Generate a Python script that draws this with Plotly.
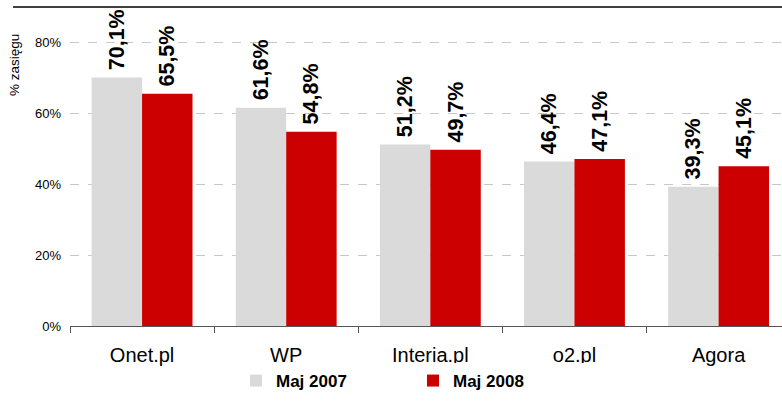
import plotly.graph_objects as go

categories = ["Onet.pl", "WP", "Interia.pl", "o2.pl", "Agora"]
maj_2007 = [70.1, 61.6, 51.2, 46.4, 39.3]
maj_2008 = [65.5, 54.8, 49.7, 47.1, 45.1]
y_ticks = [0, 20, 40, 60, 80]
y_tick_labels = ["0%", "20%", "40%", "60%", "80%"]

def fmt(v):
    return "\u2009" + f"{v:.1f}".replace(".", ",") + "%"

fig = go.Figure()
lab_font = dict(family="Liberation Sans, Arial", size=21.5, color="black")
fig.add_trace(go.Bar(
    name="<b>Maj 2007</b>", x=categories, y=maj_2007,
    marker=dict(color="#DADADA", line=dict(width=0)),
    text=[f"<b>{fmt(v)}</b>" for v in maj_2007],
    textposition="outside", textangle=-90, textfont=lab_font, cliponaxis=False,
    constraintext="none",
))
fig.add_trace(go.Bar(
    name="<b>Maj 2008</b>", x=categories, y=maj_2008,
    marker=dict(color="#CC0000", line=dict(width=0)),
    text=[f"<b>{fmt(v)}</b>" for v in maj_2008],
    textposition="outside", textangle=-90, textfont=lab_font, cliponaxis=False,
    constraintext="none",
))

L, T, B, W, H = 70, 7, 85, 782, 411
pw = W - L
ph = H - T - B
fig.update_layout(
    width=W, height=H,
    margin=dict(l=L, r=0, t=T, b=B, autoexpand=False),
    paper_bgcolor="white", plot_bgcolor="white",
    barmode="group", bargap=0.3, bargroupgap=0,
    font=dict(family="Liberation Sans, Arial", color="black"),
    showlegend=True,
    legend=dict(orientation="h", x=(236 - L) / pw, xanchor="left",
                y=(326 - 363) / ph, yanchor="top",
                font=dict(size=17, family="Liberation Sans, Arial"),
                entrywidth=132, itemwidth=30, traceorder="normal"),
    uniformtext=dict(mode=False),
)
fig.update_xaxes(
    range=[-0.5, 4.44], showline=True, linecolor="#555555", linewidth=1,
    ticks="outside", ticklen=6, tickcolor="#555555", tickson="boundaries",
    tickfont=dict(size=20), showgrid=False, ticklabelstandoff=11,
)
fig.update_yaxes(
    range=[0, 90], tickvals=y_ticks, ticktext=y_tick_labels,
    tickfont=dict(size=13), showgrid=True, gridcolor="#C8C8C8", griddash="dash",
    gridwidth=1, zeroline=False, showline=False, ticks="", ticklabelstandoff=8,
)
fig.add_shape(type="line", xref="paper", yref="paper",
              x0=(13 - L) / pw, x1=1.0, y0=1, y1=1,
              line=dict(color="black", width=1.5))
fig.add_annotation(text="% zasięgu", xref="paper", yref="paper",
                   x=(15 - L) / pw, y=(326 - 65) / ph, textangle=-90,
                   xanchor="center", yanchor="middle",
                   showarrow=False, font=dict(size=13.5))
fig.write_html("out.html", config={"displayModeBar": False},
               post_script="document.body.style.margin='0';document.body.style.overflow='hidden';")
